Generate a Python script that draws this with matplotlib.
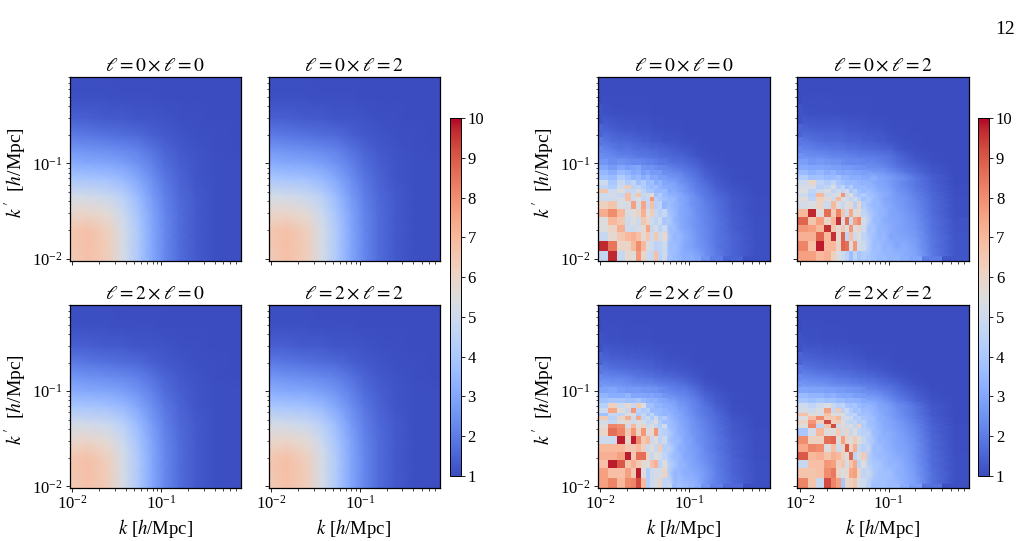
import numpy as np
import matplotlib
matplotlib.use('Agg')
import matplotlib.pyplot as plt
from matplotlib.ticker import LogLocator, NullFormatter

plt.rcParams['font.family'] = ['Liberation Serif', 'DejaVu Serif']
plt.rcParams['mathtext.fontset'] = 'stix'

titles = [r'$\ell=0\times\ell=0$', r'$\ell=0\times\ell=2$',
          r'$\ell=2\times\ell=0$', r'$\ell=2\times\ell=2$']
cbar_ticks = [1, 2, 3, 4, 5, 6, 7, 8, 9, 10]

# analytic covariance ratio, sampled on a coarse k grid
k_model = [0.0093, 0.015, 0.025, 0.0375, 0.055, 0.08, 0.11, 0.16, 0.25, 0.4, 0.79]
kp_model = [0.0096, 0.015, 0.02, 0.03, 0.045, 0.07, 0.1, 0.14, 0.2, 0.3, 0.5, 0.815]
model = [
    [6.3, 6.7, 6.3, 5.2, 4.1, 3.0, 2.3, 1.7, 1.3, 1.1, 1.05],
    [6.5, 6.8, 6.3, 5.2, 4.1, 3.0, 2.3, 1.7, 1.3, 1.1, 1.05],
    [6.5, 6.7, 6.2, 5.2, 4.1, 3.0, 2.3, 1.7, 1.3, 1.1, 1.05],
    [5.9, 6.0, 5.7, 4.9, 3.9, 2.9, 2.2, 1.7, 1.3, 1.1, 1.05],
    [5.2, 5.1, 4.9, 4.4, 3.6, 2.7, 2.1, 1.6, 1.3, 1.1, 1.05],
    [4.0, 3.9, 3.8, 3.5, 3.0, 2.4, 1.9, 1.5, 1.2, 1.1, 1.05],
    [3.2, 3.1, 3.0, 2.8, 2.5, 2.1, 1.7, 1.4, 1.2, 1.1, 1.05],
    [2.6, 2.5, 2.4, 2.3, 2.1, 1.8, 1.5, 1.3, 1.15, 1.05, 1.0],
    [2.0, 1.9, 1.8, 1.7, 1.6, 1.4, 1.3, 1.2, 1.1, 1.05, 1.0],
    [1.4, 1.4, 1.3, 1.3, 1.2, 1.2, 1.15, 1.1, 1.05, 1.0, 1.0],
    [1.1, 1.1, 1.1, 1.05, 1.05, 1.05, 1.0, 1.0, 1.0, 1.0, 1.0],
    [1.05, 1.05, 1.05, 1.0, 1.0, 1.0, 1.0, 1.0, 1.0, 1.0, 1.0],
]

# measured ratio, bin edges in k and k'
k_edges = [0.0095, 0.01229, 0.01529, 0.01878, 0.0222, 0.02526, 0.02872, 0.03225,
           0.0362, 0.04012, 0.04447, 0.0493, 0.05605, 0.06375, 0.07249, 0.08249,
           0.09623, 0.1123, 0.1344, 0.1695, 0.2368, 0.396, 0.7933]
kp_edges = [0.00955, 0.01215, 0.01547, 0.01898, 0.02275, 0.02759, 0.03345, 0.04058,
            0.0447, 0.04921, 0.05419, 0.05967, 0.06732, 0.07595, 0.08569, 0.09667,
            0.1117, 0.1291, 0.1528, 0.1898, 0.2598, 0.4207, 0.8068]

measured_00 = [
    [4.7, 9.7, 4.8, 5.8, 5.6, 7.8, 6.0, 5.0, 4.8, 6.8, 4.5, 5.0, 3.8, 3.6, 3.4, 3.2, 3.2, 3.0, 2.5, 2.0, 1.5, 1.1],
    [9.7, 8.5, 6.0, 6.0, 7.0, 8.0, 7.0, 5.5, 5.0, 4.5, 4.7, 5.0, 3.6, 3.8, 3.4, 3.0, 2.9, 2.6, 2.4, 1.9, 1.5, 1.1],
    [4.8, 5.8, 6.5, 7.0, 7.2, 6.8, 5.8, 6.5, 5.0, 6.5, 5.0, 5.8, 4.0, 3.4, 3.6, 3.2, 2.9, 2.6, 2.3, 1.9, 1.5, 1.1],
    [5.5, 6.0, 7.2, 5.0, 5.0, 5.2, 5.8, 7.5, 4.8, 5.2, 4.5, 5.0, 3.6, 3.8, 3.2, 3.0, 2.8, 2.5, 2.3, 1.9, 1.4, 1.1],
    [5.5, 7.0, 6.5, 5.0, 5.5, 5.0, 6.5, 6.0, 5.0, 4.6, 5.0, 4.0, 4.2, 3.4, 3.2, 2.9, 2.7, 2.5, 2.2, 1.9, 1.4, 1.1],
    [7.3, 8.0, 7.0, 5.3, 5.6, 6.0, 7.2, 5.5, 6.3, 4.8, 4.4, 4.8, 3.8, 3.6, 3.1, 3.0, 2.8, 2.4, 2.2, 1.8, 1.35, 1.05],
    [6.2, 6.6, 5.3, 5.2, 7.6, 5.2, 7.5, 4.8, 6.8, 4.4, 4.6, 3.5, 3.7, 3.4, 3.2, 2.9, 2.6, 2.4, 2.1, 1.8, 1.3, 1.05],
    [5.0, 5.0, 5.2, 6.8, 5.0, 5.5, 4.6, 4.8, 7.8, 4.4, 4.0, 3.8, 3.6, 3.6, 3.0, 3.0, 2.6, 2.4, 2.0, 1.7, 1.3, 1.05],
    [5.0, 5.2, 4.8, 6.8, 5.0, 6.6, 4.8, 5.0, 5.8, 3.8, 4.2, 3.6, 3.4, 3.2, 3.2, 2.8, 2.6, 2.2, 1.9, 1.6, 1.25, 1.0],
    [6.6, 5.0, 5.6, 4.8, 4.8, 5.2, 4.6, 4.0, 4.0, 3.6, 3.6, 3.6, 3.0, 3.2, 2.8, 2.6, 2.4, 2.1, 1.9, 1.5, 1.2, 1.0],
    [4.6, 4.2, 5.0, 6.4, 4.4, 4.6, 4.2, 3.8, 3.6, 3.8, 3.4, 3.2, 3.2, 2.9, 2.8, 2.6, 2.3, 2.0, 1.8, 1.4, 1.15, 1.0],
    [5.0, 4.0, 4.8, 4.2, 4.6, 3.8, 4.2, 3.6, 3.8, 3.2, 3.4, 3.0, 2.9, 2.9, 2.5, 2.4, 2.2, 1.9, 1.7, 1.35, 1.1, 1.0],
    [3.8, 3.6, 4.2, 3.8, 3.4, 3.6, 3.2, 3.5, 3.0, 3.1, 2.8, 2.8, 2.6, 2.5, 2.5, 2.2, 2.0, 1.8, 1.5, 1.25, 1.05, 1.0],
    [3.5, 3.2, 3.6, 3.4, 3.1, 3.2, 2.8, 3.0, 2.7, 2.7, 2.7, 2.4, 2.4, 2.3, 2.2, 2.0, 1.9, 1.7, 1.4, 1.2, 1.05, 1.0],
    [3.0, 2.7, 3.0, 2.8, 2.9, 3.0, 2.6, 2.5, 2.5, 2.4, 2.3, 2.2, 2.1, 2.0, 1.9, 1.8, 1.7, 1.5, 1.3, 1.15, 1.0, 1.0],
    [2.6, 2.4, 2.5, 2.4, 2.3, 2.3, 2.2, 2.1, 2.1, 2.0, 1.9, 1.9, 1.8, 1.7, 1.7, 1.6, 1.5, 1.4, 1.2, 1.1, 1.0, 1.0],
    [2.4, 2.3, 2.1, 2.1, 2.0, 1.9, 1.9, 1.9, 1.8, 1.8, 1.7, 1.6, 1.6, 1.5, 1.5, 1.4, 1.3, 1.2, 1.1, 1.05, 1.0, 1.0],
    [2.2, 2.0, 1.8, 1.9, 1.8, 1.7, 1.7, 1.7, 1.6, 1.6, 1.5, 1.5, 1.4, 1.4, 1.3, 1.25, 1.2, 1.1, 1.05, 1.0, 1.0, 1.0],
    [1.9, 1.7, 1.6, 1.6, 1.5, 1.5, 1.4, 1.4, 1.3, 1.3, 1.3, 1.2, 1.2, 1.2, 1.15, 1.1, 1.05, 1.05, 1.0, 1.0, 1.0, 1.0],
    [1.5, 1.4, 1.3, 1.25, 1.3, 1.2, 1.2, 1.2, 1.15, 1.1, 1.1, 1.1, 1.05, 1.05, 1.05, 1.0, 1.0, 1.0, 1.0, 1.0, 1.0, 1.0],
    [1.15, 1.1, 1.05, 1.05, 1.05, 1.05, 1.05, 1.05, 1.0, 1.0, 1.0, 1.0, 1.0, 1.0, 1.0, 1.0, 1.0, 1.0, 1.0, 1.0, 1.0, 1.0],
    [1.0, 1.0, 1.0, 1.0, 1.0, 1.0, 1.0, 1.0, 1.0, 1.0, 1.0, 1.0, 1.0, 1.0, 1.0, 1.0, 1.0, 1.0, 1.0, 1.0, 1.0, 1.0],
]
measured_02 = [
    [7.6, 7.6, 7.0, 7.2, 6.2, 5.4, 5.0, 4.5, 3.7, 4.6, 4.0, 4.2, 4.0, 3.8, 3.6, 3.6, 3.4, 3.4, 3.2, 3.0, 2.0, 1.2],
    [8.2, 6.8, 9.8, 7.0, 7.0, 6.0, 8.8, 8.6, 5.5, 7.8, 5.2, 5.0, 4.4, 3.6, 3.8, 3.3, 3.4, 3.0, 3.2, 2.8, 1.9, 1.2],
    [7.2, 7.2, 8.8, 7.0, 9.6, 5.8, 8.8, 4.6, 6.8, 5.0, 5.6, 4.6, 4.2, 3.8, 3.4, 3.6, 3.0, 3.1, 2.9, 2.7, 1.9, 1.2],
    [7.8, 7.6, 7.0, 9.6, 6.5, 5.8, 6.5, 5.5, 7.8, 5.4, 6.0, 5.0, 3.8, 4.0, 3.4, 3.4, 3.2, 2.9, 2.8, 2.6, 1.8, 1.15],
    [8.8, 6.6, 7.6, 6.0, 7.0, 9.6, 5.4, 8.6, 5.0, 7.6, 8.0, 5.2, 4.6, 3.6, 3.6, 3.2, 3.1, 3.0, 2.8, 2.5, 1.8, 1.15],
    [7.0, 9.7, 5.6, 8.6, 6.4, 8.2, 6.6, 5.0, 7.4, 5.5, 5.8, 4.6, 4.2, 3.8, 3.4, 3.4, 3.0, 2.9, 2.7, 2.4, 1.7, 1.1],
    [5.2, 5.4, 6.0, 5.0, 7.0, 5.4, 4.8, 5.4, 5.8, 4.4, 6.0, 4.2, 3.8, 3.5, 3.6, 3.2, 3.1, 2.8, 2.6, 2.3, 1.7, 1.1],
    [5.6, 4.6, 6.2, 5.8, 5.0, 7.0, 5.4, 5.2, 4.6, 5.2, 4.4, 3.8, 4.2, 3.6, 3.4, 3.1, 2.9, 2.7, 2.6, 2.2, 1.6, 1.1],
    [5.0, 4.4, 7.0, 5.0, 5.2, 5.6, 7.8, 4.8, 5.6, 4.2, 4.0, 4.2, 3.8, 3.8, 3.4, 3.2, 3.0, 2.7, 2.5, 2.1, 1.6, 1.05],
    [5.4, 4.6, 5.0, 5.4, 4.6, 5.0, 4.6, 5.2, 4.0, 4.4, 3.8, 3.6, 3.8, 3.4, 3.2, 3.1, 2.9, 2.6, 2.4, 2.0, 1.5, 1.05],
    [5.2, 5.2, 4.4, 4.6, 5.4, 4.2, 4.6, 3.8, 4.2, 3.6, 3.6, 3.6, 3.4, 3.4, 3.1, 3.0, 2.8, 2.5, 2.3, 1.9, 1.5, 1.05],
    [5.0, 6.0, 4.6, 4.2, 4.6, 4.0, 3.8, 3.6, 3.6, 3.6, 3.4, 3.3, 3.4, 3.1, 3.0, 2.9, 2.7, 2.5, 2.2, 1.9, 1.4, 1.0],
    [4.2, 3.8, 3.8, 3.6, 3.6, 3.8, 3.4, 3.4, 3.2, 3.2, 3.2, 3.1, 3.0, 3.4, 3.0, 2.9, 2.8, 2.5, 2.4, 1.9, 1.4, 1.0],
    [3.6, 3.3, 3.5, 3.2, 3.4, 3.1, 3.0, 3.1, 3.0, 2.9, 2.9, 2.8, 2.9, 2.7, 2.7, 2.6, 2.4, 2.2, 1.9, 1.6, 1.25, 1.0],
    [3.1, 3.0, 3.0, 2.9, 2.8, 2.8, 2.7, 2.7, 2.7, 2.6, 2.5, 2.5, 2.4, 2.4, 2.4, 2.3, 2.1, 1.9, 1.7, 1.5, 1.2, 1.0],
    [2.8, 2.6, 2.7, 2.6, 2.5, 2.5, 2.4, 2.3, 2.3, 2.3, 2.3, 2.2, 2.2, 2.2, 2.1, 2.0, 1.9, 1.7, 1.5, 1.3, 1.1, 1.0],
    [2.5, 2.4, 2.4, 2.3, 2.2, 2.2, 2.2, 2.2, 2.1, 2.1, 2.0, 2.0, 2.0, 2.0, 1.9, 1.9, 1.8, 1.6, 1.4, 1.2, 1.05, 1.0],
    [2.2, 2.1, 2.0, 2.0, 1.9, 1.9, 1.9, 1.8, 1.8, 1.8, 1.7, 1.7, 1.7, 1.6, 1.6, 1.5, 1.5, 1.3, 1.2, 1.1, 1.0, 1.0],
    [1.9, 1.8, 1.7, 1.6, 1.6, 1.6, 1.6, 1.5, 1.5, 1.5, 1.5, 1.4, 1.4, 1.4, 1.3, 1.3, 1.2, 1.15, 1.1, 1.05, 1.0, 1.0],
    [1.5, 1.45, 1.4, 1.4, 1.4, 1.4, 1.4, 1.35, 1.3, 1.3, 1.25, 1.25, 1.2, 1.2, 1.2, 1.15, 1.1, 1.05, 1.05, 1.0, 1.0, 1.0],
    [1.15, 1.1, 1.1, 1.1, 1.1, 1.1, 1.05, 1.05, 1.05, 1.05, 1.05, 1.05, 1.05, 1.0, 1.0, 1.0, 1.0, 1.0, 1.0, 1.0, 1.0, 1.0],
    [1.0, 1.0, 1.0, 1.0, 1.0, 1.0, 1.0, 1.0, 1.0, 1.0, 1.0, 1.0, 1.0, 1.0, 1.0, 1.0, 1.0, 1.0, 1.0, 1.0, 1.0, 1.0],
]
measured_20 = [
    [7.6, 8.2, 7.0, 8.0, 8.2, 9.2, 7.0, 4.2, 5.0, 5.2, 6.0, 4.6, 4.8, 3.6, 3.8, 3.6, 3.4, 3.2, 2.6, 2.1, 1.6, 1.1],
    [7.6, 6.8, 6.8, 7.6, 6.5, 9.8, 5.5, 4.2, 5.0, 5.2, 5.2, 6.0, 4.2, 3.4, 3.6, 3.2, 3.2, 3.0, 2.7, 2.1, 1.5, 1.1],
    [6.8, 9.8, 9.0, 6.6, 7.2, 6.5, 5.8, 5.5, 6.8, 7.2, 4.6, 5.4, 4.4, 4.0, 3.4, 3.4, 3.0, 2.8, 2.5, 2.0, 1.5, 1.1],
    [7.2, 7.2, 7.6, 9.8, 6.5, 8.6, 8.6, 6.0, 4.8, 5.6, 5.2, 4.6, 4.0, 3.6, 3.6, 3.0, 3.0, 2.7, 2.4, 2.0, 1.45, 1.05],
    [7.0, 7.0, 7.0, 6.5, 6.5, 7.0, 6.2, 5.0, 5.6, 4.8, 6.4, 4.4, 4.6, 3.8, 3.2, 3.2, 2.8, 2.7, 2.3, 1.9, 1.4, 1.05],
    [5.0, 5.0, 9.8, 6.0, 9.8, 8.0, 6.5, 7.0, 5.0, 5.6, 4.6, 5.0, 3.8, 3.6, 3.6, 3.0, 2.9, 2.5, 2.3, 1.9, 1.4, 1.05],
    [6.0, 8.6, 8.2, 6.5, 7.8, 6.0, 7.8, 5.5, 5.8, 7.8, 4.6, 4.4, 4.2, 3.6, 3.2, 3.1, 2.7, 2.5, 2.2, 1.8, 1.3, 1.05],
    [5.6, 8.2, 8.0, 5.2, 7.0, 5.4, 6.0, 5.0, 5.4, 4.8, 4.4, 5.0, 3.6, 3.6, 3.2, 2.9, 2.7, 2.4, 2.1, 1.8, 1.3, 1.0],
    [5.2, 4.8, 5.4, 5.8, 5.0, 5.4, 5.2, 4.6, 4.8, 5.6, 4.2, 3.8, 3.8, 3.4, 3.2, 2.9, 2.6, 2.4, 2.1, 1.7, 1.25, 1.0],
    [6.4, 4.4, 6.0, 7.2, 5.0, 7.4, 4.6, 5.0, 4.2, 5.0, 4.0, 4.2, 3.6, 3.4, 3.0, 2.9, 2.6, 2.3, 2.0, 1.7, 1.2, 1.0],
    [3.8, 4.8, 4.6, 5.6, 5.4, 4.2, 4.8, 4.0, 4.6, 3.8, 3.6, 3.4, 3.6, 3.1, 3.1, 2.7, 2.5, 2.2, 1.9, 1.6, 1.15, 1.0],
    [5.0, 7.4, 5.6, 4.8, 7.8, 4.6, 4.2, 4.4, 3.6, 3.6, 3.6, 3.4, 3.2, 3.2, 2.8, 2.7, 2.4, 2.1, 1.9, 1.5, 1.1, 1.0],
    [4.4, 6.2, 5.0, 5.8, 4.8, 6.4, 5.4, 3.8, 3.8, 3.4, 3.4, 3.2, 3.2, 2.9, 2.7, 2.6, 2.3, 2.1, 1.8, 1.4, 1.1, 1.0],
    [3.8, 4.0, 4.0, 3.8, 3.8, 4.0, 3.6, 3.4, 3.3, 3.3, 3.1, 3.0, 2.8, 2.8, 2.5, 2.4, 2.2, 2.0, 1.6, 1.3, 1.05, 1.0],
    [3.4, 3.2, 3.2, 3.4, 3.0, 3.0, 3.0, 2.9, 3.0, 2.8, 2.8, 2.6, 2.5, 2.4, 2.3, 2.2, 2.0, 1.8, 1.5, 1.25, 1.05, 1.0],
    [2.9, 3.0, 2.8, 2.7, 2.7, 2.7, 2.6, 2.6, 2.5, 2.5, 2.4, 2.3, 2.2, 2.1, 2.0, 2.0, 1.8, 1.6, 1.3, 1.15, 1.0, 1.0],
    [2.6, 2.5, 2.5, 2.4, 2.3, 2.3, 2.2, 2.2, 2.2, 2.1, 2.0, 2.0, 1.9, 1.9, 1.8, 1.7, 1.5, 1.4, 1.2, 1.05, 1.0, 1.0],
    [2.3, 2.2, 2.2, 2.1, 2.0, 1.9, 1.9, 1.8, 1.8, 1.7, 1.7, 1.6, 1.6, 1.5, 1.5, 1.4, 1.3, 1.2, 1.1, 1.0, 1.0, 1.0],
    [1.9, 1.8, 1.7, 1.7, 1.6, 1.6, 1.5, 1.5, 1.5, 1.4, 1.4, 1.3, 1.3, 1.3, 1.2, 1.2, 1.15, 1.1, 1.05, 1.0, 1.0, 1.0],
    [1.5, 1.4, 1.4, 1.35, 1.35, 1.3, 1.3, 1.25, 1.25, 1.2, 1.2, 1.15, 1.1, 1.1, 1.1, 1.05, 1.05, 1.0, 1.0, 1.0, 1.0, 1.0],
    [1.15, 1.1, 1.1, 1.05, 1.05, 1.05, 1.05, 1.05, 1.05, 1.0, 1.0, 1.0, 1.0, 1.0, 1.0, 1.0, 1.0, 1.0, 1.0, 1.0, 1.0, 1.0],
    [1.0, 1.0, 1.0, 1.0, 1.0, 1.0, 1.0, 1.0, 1.0, 1.0, 1.0, 1.0, 1.0, 1.0, 1.0, 1.0, 1.0, 1.0, 1.0, 1.0, 1.0, 1.0],
]
measured_22 = [
    [8.2, 6.6, 4.8, 9.2, 8.2, 7.6, 4.0, 6.0, 6.2, 6.6, 5.2, 5.0, 4.4, 3.8, 3.8, 3.8, 3.6, 3.6, 3.2, 2.8, 1.8, 1.1],
    [6.6, 6.6, 6.8, 8.0, 8.4, 6.0, 5.4, 5.8, 7.4, 7.6, 6.0, 4.6, 5.0, 4.2, 3.8, 3.8, 3.8, 3.3, 3.2, 2.7, 1.8, 1.1],
    [4.8, 6.8, 6.8, 7.8, 7.6, 6.2, 6.6, 5.2, 6.6, 7.4, 4.6, 5.4, 4.4, 4.0, 4.0, 3.6, 3.4, 3.4, 3.1, 2.6, 1.7, 1.1],
    [9.0, 7.0, 7.2, 6.6, 7.2, 7.0, 6.2, 5.6, 8.8, 4.6, 5.2, 6.4, 4.2, 3.8, 3.6, 3.6, 3.4, 3.2, 3.0, 2.5, 1.7, 1.1],
    [7.4, 8.2, 8.0, 5.4, 6.8, 5.0, 6.0, 9.0, 6.0, 7.2, 4.8, 4.4, 5.0, 3.6, 3.8, 3.4, 3.3, 3.0, 2.9, 2.5, 1.6, 1.05],
    [8.0, 6.2, 6.2, 8.6, 8.8, 5.6, 7.6, 6.0, 5.4, 6.4, 5.6, 4.8, 4.2, 4.0, 3.4, 3.4, 3.2, 3.0, 2.8, 2.4, 1.6, 1.05],
    [4.0, 5.2, 7.0, 5.6, 5.6, 6.4, 5.0, 6.0, 4.8, 5.4, 4.6, 4.4, 4.6, 3.6, 3.6, 3.2, 3.2, 2.9, 2.7, 2.3, 1.5, 1.05],
    [5.6, 8.2, 4.6, 6.6, 9.2, 5.0, 5.8, 5.0, 5.4, 4.6, 6.0, 4.2, 3.8, 3.8, 3.4, 3.2, 3.0, 2.8, 2.6, 2.2, 1.5, 1.05],
    [6.0, 7.8, 6.2, 9.2, 6.2, 6.4, 5.4, 4.8, 4.6, 4.8, 4.2, 4.4, 3.8, 3.6, 3.4, 3.1, 3.0, 2.8, 2.5, 2.1, 1.4, 1.0],
    [5.4, 6.8, 8.0, 6.4, 6.4, 7.0, 5.0, 5.2, 5.0, 4.2, 4.4, 4.0, 3.8, 3.8, 3.2, 3.2, 2.9, 2.6, 2.4, 2.0, 1.4, 1.0],
    [6.8, 5.6, 5.4, 6.8, 5.6, 5.2, 5.6, 4.6, 4.4, 4.6, 3.8, 3.8, 3.8, 3.4, 3.3, 3.0, 2.8, 2.6, 2.3, 1.9, 1.3, 1.0],
    [5.2, 5.0, 5.4, 7.6, 4.8, 6.4, 4.4, 5.0, 4.2, 3.8, 4.0, 3.6, 3.6, 3.4, 3.1, 3.0, 2.8, 2.5, 2.2, 1.9, 1.3, 1.0],
    [5.0, 4.6, 5.0, 5.4, 4.8, 4.4, 4.6, 4.0, 3.8, 4.0, 3.6, 3.4, 3.5, 3.3, 3.0, 2.9, 2.7, 2.4, 2.2, 1.8, 1.25, 1.0],
    [4.0, 3.8, 4.0, 3.8, 3.8, 3.6, 3.6, 3.4, 3.4, 3.3, 3.3, 3.1, 3.0, 2.9, 2.8, 2.6, 2.4, 2.1, 1.9, 1.5, 1.15, 1.0],
    [3.6, 3.4, 3.4, 3.2, 3.3, 3.1, 3.0, 3.0, 3.0, 2.8, 2.8, 2.7, 2.6, 2.6, 2.5, 2.3, 2.1, 1.9, 1.7, 1.4, 1.1, 1.0],
    [3.0, 2.9, 2.9, 2.8, 2.8, 2.7, 2.7, 2.6, 2.6, 2.5, 2.5, 2.4, 2.3, 2.2, 2.1, 2.0, 1.9, 1.7, 1.5, 1.25, 1.05, 1.0],
    [2.6, 2.5, 2.5, 2.4, 2.3, 2.3, 2.2, 2.2, 2.1, 2.1, 2.0, 2.0, 1.9, 1.9, 1.8, 1.7, 1.6, 1.5, 1.3, 1.15, 1.0, 1.0],
    [2.3, 2.2, 2.1, 2.1, 2.0, 1.9, 1.9, 1.9, 1.8, 1.8, 1.7, 1.7, 1.6, 1.6, 1.5, 1.45, 1.35, 1.25, 1.15, 1.05, 1.0, 1.0],
    [1.9, 1.8, 1.7, 1.6, 1.6, 1.6, 1.5, 1.5, 1.5, 1.45, 1.4, 1.4, 1.3, 1.3, 1.25, 1.2, 1.15, 1.1, 1.05, 1.0, 1.0, 1.0],
    [1.5, 1.45, 1.4, 1.35, 1.35, 1.3, 1.3, 1.25, 1.25, 1.2, 1.2, 1.15, 1.1, 1.1, 1.1, 1.05, 1.05, 1.0, 1.0, 1.0, 1.0, 1.0],
    [1.15, 1.1, 1.1, 1.05, 1.05, 1.05, 1.05, 1.05, 1.0, 1.0, 1.0, 1.0, 1.0, 1.0, 1.0, 1.0, 1.0, 1.0, 1.0, 1.0, 1.0, 1.0],
    [1.0, 1.0, 1.0, 1.0, 1.0, 1.0, 1.0, 1.0, 1.0, 1.0, 1.0, 1.0, 1.0, 1.0, 1.0, 1.0, 1.0, 1.0, 1.0, 1.0, 1.0, 1.0],
]

W, H = 1022, 541
fig = plt.figure(figsize=(W / 100, H / 100), dpi=100)


def px_axes(x0, y0, x1, y1):
    # axes from pixel corners, y counted from the top
    return fig.add_axes([x0 / W, 1 - y1 / H, (x1 - x0) / W, (y1 - y0) / H])


def style_panel(ax, title, bottom, left):
    ax.set_xscale('log')
    ax.set_yscale('log')
    ax.set_xlim(0.0093, 0.79)
    ax.set_ylim(0.0096, 0.815)
    ax.set_title(title, fontsize=14, pad=4)
    for axis in (ax.xaxis, ax.yaxis):
        axis.set_major_locator(LogLocator(base=10))
        axis.set_minor_locator(LogLocator(base=10, subs=np.arange(2, 10) * 0.1, numticks=12))
        axis.set_minor_formatter(NullFormatter())
    ax.tick_params(which='major', length=3, width=0.6, labelsize=12, pad=2)
    ax.tick_params(which='minor', length=1.8, width=0.5)
    if bottom:
        ax.set_xlabel(r'$k$ [$h$/Mpc]', fontsize=13.5, labelpad=3)
    else:
        ax.tick_params(which='both', labelbottom=False)
    if left:
        ax.set_ylabel(r"$k^{\,\prime}\;$ [$h$/Mpc]", fontsize=14, labelpad=2, y=0.48)
    else:
        ax.tick_params(which='both', labelleft=False)
    for s in ax.spines.values():
        s.set_linewidth(0.9)


def style_cbar(cax, mesh):
    cb = fig.colorbar(mesh, cax=cax, ticks=cbar_ticks)
    cb.ax.tick_params(length=3, width=0.6, labelsize=12, pad=2)
    cb.outline.set_linewidth(0.7)


# left block: model
boxes_left = [(69.5, 76.5, 241, 260.5), (268.5, 76.5, 439.5, 260.5),
              (69.5, 304.5, 241, 488), (268.5, 304.5, 439.5, 488)]
for i, box in enumerate(boxes_left):
    ax = px_axes(*box)
    m = ax.pcolormesh(k_model, kp_model, np.array(model), cmap='coolwarm', vmin=1, vmax=10,
                      shading='gouraud', rasterized=True)
    style_panel(ax, titles[i], i >= 2, i % 2 == 0)
style_cbar(px_axes(449.5, 118, 460.5, 476), m)

# right block: measured, low k bins stay blocky, the rest is shaded between bin centres
k_mid = np.sqrt(np.array(k_edges[:-1]) * np.array(k_edges[1:]))
kp_mid = np.sqrt(np.array(kp_edges[:-1]) * np.array(kp_edges[1:]))
n_low_k, n_low_kp = 12, 16
boxes_right = [(597.5, 76.5, 769.5, 260.5), (797, 76.5, 968.5, 260.5),
               (597.5, 304.5, 769.5, 488), (797, 304.5, 968.5, 488)]
measured = [measured_00, measured_02, measured_20, measured_22]
for i, box in enumerate(boxes_right):
    ax = px_axes(*box)
    vals = np.array(measured[i])
    low = np.ma.masked_all(vals.shape)
    low[:n_low_kp, :n_low_k] = vals[:n_low_kp, :n_low_k]
    mesh_kw = dict(cmap='coolwarm', vmin=1, vmax=10, rasterized=True)
    m = ax.pcolormesh(k_edges, kp_edges, vals, shading='flat', **mesh_kw)
    ax.pcolormesh(k_mid, kp_mid, vals, shading='gouraud', **mesh_kw)
    ax.pcolormesh(k_edges, kp_edges, low, shading='flat', **mesh_kw)
    style_panel(ax, titles[i], i >= 2, i % 2 == 0)
style_cbar(px_axes(978, 118, 989, 476), m)

# page number
fig.text(1005 / W, 1 - 30 / H, '12', fontsize=14, ha='center', va='center')

fig.savefig('out.png', dpi=100)
